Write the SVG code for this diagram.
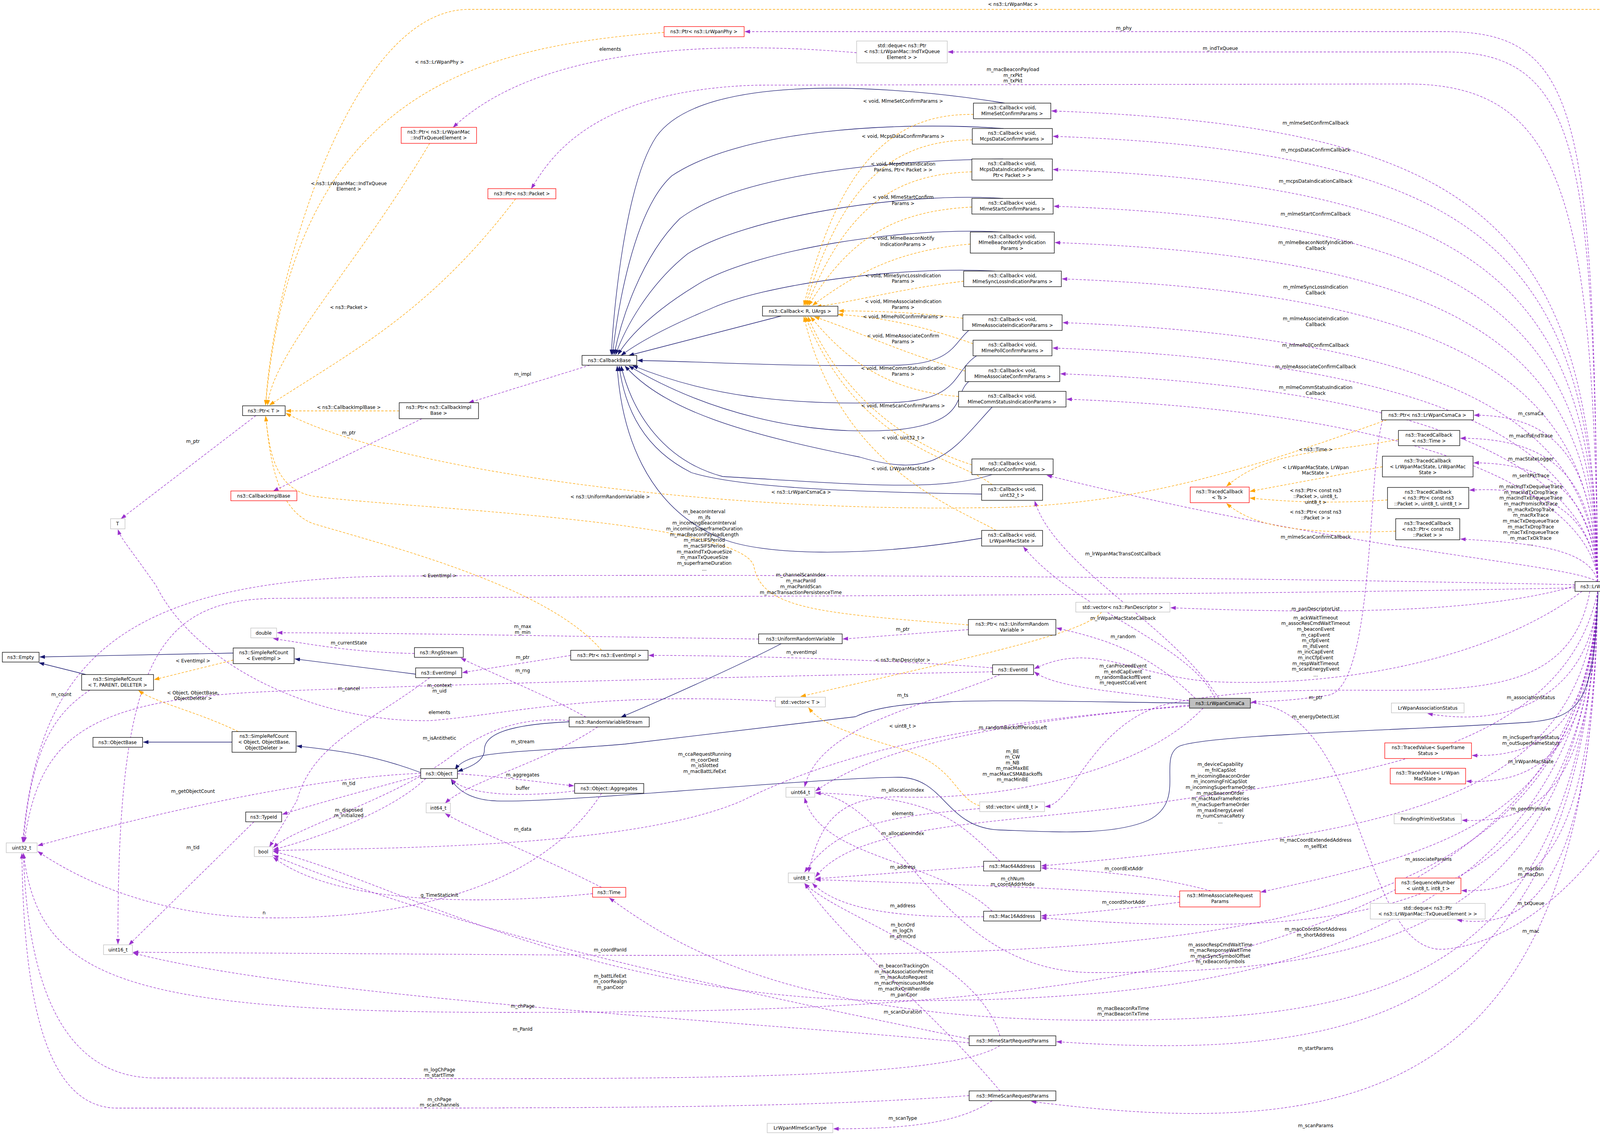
<svg xmlns="http://www.w3.org/2000/svg" width="4465" height="2911" viewBox="0 0 4465 2911">
<style>
text{font-family:"DejaVu Sans","Liberation Sans",sans-serif;font-size:12px;text-anchor:middle;fill:#000}
.nb rect{fill:#fff;stroke:#000;stroke-width:1.3}
.ng rect{fill:#fff;stroke:#bfbfbf;stroke-width:1.3}
.nr rect{fill:#fff;stroke:#ff0000;stroke-width:1.3}
.nc rect{fill:#bfbfbf;stroke:#000;stroke-width:1.3}
.u{fill:none;stroke:#9a32cd;stroke-width:1.3;stroke-dasharray:6,4;marker-end:url(#mu)}
.o{fill:none;stroke:#ffa500;stroke-width:1.3;stroke-dasharray:6,4;marker-end:url(#mo)}
.i{fill:none;stroke:#191970;stroke-width:1.3;marker-end:url(#mi)}
</style>
<defs>
<marker id="mu" markerUnits="userSpaceOnUse" markerWidth="14" markerHeight="10" refX="13" refY="5" orient="auto"><path d="M0,0 L14,5 L0,10 z" fill="#9a32cd"/></marker>
<marker id="mo" markerUnits="userSpaceOnUse" markerWidth="14" markerHeight="10" refX="13" refY="5" orient="auto"><path d="M0,0 L14,5 L0,10 z" fill="#ffa500"/></marker>
<marker id="mi" markerUnits="userSpaceOnUse" markerWidth="14" markerHeight="10" refX="13" refY="5" orient="auto"><path d="M0,0 L14,5 L0,10 z" fill="#191970"/></marker>
</defs>
<rect width="4465" height="2911" fill="#fff"/>
<g id="edges">
<path class="u" d="M4090,1489 C4080,300 4050,81 3700,81 L1907,81"/>
<path class="u" d="M4090,1489 C4080,400 4050,133 3700,133 L2427,133"/>
<path class="u" d="M4090,1489 C4080,500 4000,215 3600,215 L1940,218 C1500,230 1400,420 1360,483"/>
<path class="u" d="M4090,1489 C4080,584 3800,324 2692,284"/>
<path class="u" d="M4090,1489 C4080,649 3800,389 2696,349"/>
<path class="u" d="M4090,1489 C4080,734 3800,474 2696,434"/>
<path class="u" d="M4090,1489 C4080,828 3800,568 2698,528"/>
<path class="u" d="M4090,1489 C4080,921 3800,661 2701,621"/>
<path class="u" d="M4090,1489 C4080,1014 3800,754 2719,714"/>
<path class="u" d="M4090,1489 C4080,1126 3800,866 2721,826"/>
<path class="u" d="M4090,1489 C4080,1191 3800,931 2695,891"/>
<path class="u" d="M4090,1489 C4080,1257 3800,997 2715,957"/>
<path class="u" d="M4090,1489 C4080,1322 3800,1062 2731,1022"/>
<path class="u" d="M4090,1489 C4000,1440 3500,1420 2680,1217"/>
<path class="u" d="M4090,1489 C4080,1200 4000,1063 3774,1063"/>
<path class="u" d="M4090,1489 C4080,1250 4000,1122 3739,1122"/>
<path class="u" d="M4090,1489 C4080,1300 4000,1185 3773,1185"/>
<path class="u" d="M4090,1489 C4080,1350 4000,1240 3762,1255"/>
<path class="u" d="M4090,1489 C4070,1400 3900,1390 3739,1380"/>
<path class="u" d="M3120,1788 C3000,1600 2700,1450 2649,1283"/>
<path class="u" d="M3110,1788 C3050,1650 2750,1560 2620,1400"/>
<path class="u" d="M4252,1502 L4163,1502"/>
<path class="o" d="M4355,1489 C4340,800 4300,24 4100,24 L1200,24 C900,24 700,700 680,1037"/>
<path class="u" d="M3201,1800 C3500,1810 3480,2450 3700,2430 C4000,2400 4300,2000 4355,1516"/>
<path class="u" d="M4032,1500 C3800,1570 3400,1572 2997,1556"/>
<path class="u" d="M4050,1514 C3800,1700 3400,1760 3100,1745 C2900,1730 2800,1640 2648,1712"/>
<path class="u" d="M3060,1788 C2950,1680 2850,1640 2705,1608"/>
<path class="u" d="M3045,1795 C2850,1770 2700,1760 2648,1720"/>
<path class="u" d="M3540,1075 C3500,1200 3520,1760 3400,1780 C3300,1795 3250,1795 3203,1798"/>
<path class="u" d="M4070,1514 C4000,1900 3500,1700 3000,1800 C2800,1840 2750,2060 2676,2065"/>
<path class="u" d="M4090,1514 C4080,1750 3900,1870 3655,1827"/>
<path class="u" d="M4090,1514 C4080,1850 3950,1940 3769,1934"/>
<path class="u" d="M4090,1514 C4080,1900 3950,2010 3754,2000"/>
<path class="u" d="M4090,1514 C4080,2000 3950,2110 3743,2100"/>
<path class="u" d="M4090,1514 C4050,2050 3600,2130 2666,2217"/>
<path class="u" d="M4090,1514 C4060,2100 3700,2180 3228,2284"/>
<path class="u" d="M4090,1514 C4080,2150 3950,2290 3742,2280"/>
<path class="u" d="M4090,1514 C4080,2200 3950,2390 3730,2355"/>
<path class="u" d="M4090,1514 C4060,2300 3600,2420 2666,2350"/>
<path class="u" d="M4090,1514 C4050,2400 3500,2490 2800,2490 C2400,2490 2300,2050 2088,2030"/>
<path class="u" d="M4090,1514 C4050,2550 3500,2612 2800,2612 C2000,2612 1700,2400 1560,2299"/>
<path class="u" d="M4090,1514 C4050,2600 3500,2720 2705,2667"/>
<path class="u" d="M4090,1514 C4080,2800 3500,2930 2640,2820"/>
<path class="u" d="M4090,1514 C4000,1950 3400,1990 3000,2050 C2600,2110 2200,2100 2088,2245"/>
<path class="u" d="M4090,1514 C4050,2500 3000,2562 2300,2562 C1500,2562 1000,2250 700,2180"/>
<path class="u" d="M4090,1514 C4050,2550 2500,2592 1300,2592 C300,2592 100,2500 60,2185"/>
<path class="u" d="M4090,1514 C4050,2450 3000,2446 1600,2446 L341,2438"/>
<path class="u" d="M4032,1497 C3000,1475 2000,1470 1000,1475 C300,1485 100,1700 58,2156"/>
<path class="u" d="M4032,1505 C3000,1527 1500,1527 700,1532 C400,1537 300,1700 302,2417"/>
<path class="i" d="M4091,1516 C4080,1800 4050,1840 3900,1850 C3600,1870 3100,1880 3020,1910 C2960,1940 3040,2050 2940,2100 C2850,2140 2700,2130 2560,2125 C2420,2120 2420,1990 2300,1990 C2100,1990 1400,2060 1260,2050 C1200,2045 1170,2020 1155,1996"/>
<path class="i" d="M3045,1800 C2600,1795 2300,1780 2190,1835 L1600,1905 C1300,1930 1200,1920 1165,1970"/>
<path class="u" d="M2560,1727 C2400,1800 2100,1850 2060,2014"/>
<path class="u" d="M2541,1720 C2000,1730 1200,1750 700,1770 C200,1790 100,1900 62,2156"/>
<path class="u" d="M2541,1710 C2300,1690 1900,1678 1661,1678"/>
<path class="o" d="M2820,1567 C2780,1620 2500,1680 2050,1783"/>
<path class="o" d="M2508,2063 C2440,2040 2450,1960 2300,1915 C2150,1870 2100,1850 2070,1812"/>
<path class="u" d="M1985,1795 C1500,1770 1300,1830 1100,1845 C800,1850 500,1700 400,1500 C330,1400 310,1380 302,1356"/>
<path class="u" d="M2193,135 C1900,110 1400,100 1160,326"/>
<path class="u" d="M2508,2070 C2300,2090 2150,2100 2060,2233"/>
<path class="u" d="M2560,2205 C2450,2100 2400,2040 2088,2030"/>
<path class="u" d="M2540,2333 C2400,2200 2100,2200 2060,2043"/>
<path class="u" d="M2518,2218 L2088,2250"/>
<path class="u" d="M2518,2347 C2300,2350 2150,2330 2080,2262"/>
<path class="u" d="M3100,2281 C2950,2240 2800,2230 2666,2222"/>
<path class="u" d="M3020,2310 C2900,2325 2750,2340 2666,2345"/>
<path class="u" d="M3020,2296 C2700,2270 2300,2260 2088,2252"/>
<path class="u" d="M2560,2652 C2500,2450 2150,2350 2060,2262"/>
<path class="u" d="M2481,2670 C2000,2620 800,2560 341,2440"/>
<path class="u" d="M2560,2677 C2400,2780 1500,2760 400,2760 C150,2760 70,2500 60,2185"/>
<path class="u" d="M2481,2660 C2000,2560 1200,2400 700,2190"/>
<path class="u" d="M2481,2805 C2000,2840 1500,2837 300,2837 C100,2837 60,2500 56,2185"/>
<path class="u" d="M2540,2818 C2450,2880 2300,2890 2134,2890"/>
<path class="u" d="M2560,2793 C2400,2600 2150,2400 2060,2262"/>
<path class="u" d="M3080,1813 C2900,2000 2500,2050 2300,2040 C2150,2040 2100,2100 2070,2233"/>
<path class="u" d="M3045,1805 C2700,1840 2300,1880 2088,2025"/>
<path class="u" d="M3045,1808 C2600,1840 2200,1900 1900,2050 C1600,2180 900,2170 700,2178"/>
<path class="u" d="M2479,1612 L2158,1636"/>
<path class="o" d="M2479,1600 C2100,1570 1950,1560 1930,1450 C1900,1330 1000,1300 800,1270 C700,1250 690,1150 680,1066"/>
<path class="o" d="M3550,1075 C3200,1200 2900,1300 2500,1300 C1800,1310 1000,1200 732,1058"/>
<path class="u" d="M1942,1636 C1500,1630 1000,1620 710,1620"/>
<path class="i" d="M2000,1648 C1900,1700 1700,1790 1590,1836"/>
<path class="u" d="M1500,1836 C1400,1780 1250,1720 1180,1685"/>
<path class="u" d="M1457,1845 C1300,1830 1200,1900 1150,1940 C1000,2050 750,2120 700,2170"/>
<path class="u" d="M1530,1861 C1400,1950 1200,2000 1140,2056"/>
<path class="i" d="M1457,1848 C1300,1855 1240,1880 1240,1920 C1240,1950 1200,1965 1172,1975"/>
<path class="u" d="M1061,1673 C900,1670 800,1650 700,1635"/>
<path class="u" d="M1461,1678 L1184,1722"/>
<path class="o" d="M1540,1665 C1400,1500 1000,1400 800,1340 C700,1300 690,1150 680,1066"/>
<path class="i" d="M1064,1726 L755,1687"/>
<path class="u" d="M1100,1735 C950,1850 800,1900 760,2050 L690,2168"/>
<path class="i" d="M597,1672 L102,1682"/>
<path class="o" d="M597,1690 L395,1740"/>
<path class="i" d="M220,1727 L100,1697"/>
<path class="u" d="M230,1767 C150,1820 80,1900 60,2156"/>
<path class="i" d="M594,1900 L367,1900"/>
<path class="o" d="M610,1873 C500,1820 400,1800 355,1768"/>
<path class="i" d="M1077,1978 C950,1930 850,1920 760,1910"/>
<path class="u" d="M1171,1981 C1300,1990 1400,2005 1469,2012"/>
<path class="u" d="M1471,2025 C1350,2040 1200,2040 1155,1995"/>
<path class="u" d="M1077,1985 C950,2020 800,2060 723,2085"/>
<path class="u" d="M1090,1993 C1000,2080 800,2150 700,2175"/>
<path class="u" d="M1077,1980 C800,1990 400,2080 97,2165"/>
<path class="u" d="M1540,2031 C1400,2250 1100,2350 700,2350 C400,2350 200,2250 97,2180"/>
<path class="u" d="M650,2104 L330,2419"/>
<path class="u" d="M1540,2272 C1400,2200 1200,2120 1140,2083"/>
<path class="u" d="M1517,2288 C1200,2320 850,2310 700,2195"/>
<path class="u" d="M655,1064 L310,1328"/>
<path class="o" d="M1022,1052 L732,1052"/>
<path class="u" d="M1080,1072 L700,1257"/>
<path class="u" d="M1510,935 L1200,1031"/>
<path class="i" d="M2000,809 L1610,910"/>
<path class="o" d="M1700,83 C1200,120 750,250 680,1037"/>
<path class="o" d="M1100,367 C900,700 700,900 685,1037"/>
<path class="o" d="M1320,509 C1100,800 900,900 690,1037"/>
<path class="i" d="M2572,264 C2300,220 1800,180 1680,350 C1600,470 1570,800 1565,908"/>
<path class="i" d="M2569,329 C2300,310 1900,330 1720,450 C1620,540 1580,800 1568,908"/>
<path class="i" d="M2568,407 C2300,410 1900,440 1740,560 C1640,660 1590,820 1572,908"/>
<path class="i" d="M2568,508 C2300,490 1900,560 1760,650 C1660,730 1600,840 1576,908"/>
<path class="i" d="M2564,594 C2300,580 1950,640 1800,720 C1680,790 1610,860 1582,908"/>
<path class="i" d="M2547,694 C2300,680 1950,730 1820,790 C1700,840 1630,880 1590,910"/>
<path class="i" d="M2480,846 C2440,880 2440,930 2300,935 C2000,940 1800,925 1632,923"/>
<path class="i" d="M2500,911 C2440,950 2460,1020 2300,1030 C2000,1040 1800,1010 1620,936"/>
<path class="i" d="M2480,977 C2440,1010 2480,1080 2300,1100 C2050,1120 1800,1050 1610,937"/>
<path class="i" d="M2540,1042 C2440,1150 2400,1230 2200,1170 C1900,1110 1700,1050 1600,937"/>
<path class="i" d="M2540,1215 C2400,1260 2200,1240 1850,1220 C1700,1180 1620,1060 1590,937"/>
<path class="i" d="M2513,1265 C2200,1260 1900,1250 1770,1210 C1650,1150 1600,1050 1585,937"/>
<path class="i" d="M2513,1378 C2200,1430 1950,1420 1850,1380 C1650,1300 1590,1100 1580,937"/>
<path class="o" d="M2492,293 C2300,290 2150,400 2058,782"/>
<path class="o" d="M2489,358 C2300,360 2160,450 2062,782"/>
<path class="o" d="M2488,440 C2300,445 2170,520 2066,782"/>
<path class="o" d="M2488,530 C2300,540 2180,600 2070,782"/>
<path class="o" d="M2484,625 C2300,640 2190,700 2080,782"/>
<path class="o" d="M2467,720 C2300,740 2200,770 2090,785"/>
<path class="o" d="M2465,815 C2350,800 2250,796 2147,796"/>
<path class="o" d="M2491,880 C2350,830 2250,812 2145,805"/>
<path class="o" d="M2471,950 C2300,900 2200,850 2085,811"/>
<path class="o" d="M2454,1015 C2250,1000 2150,900 2075,811"/>
<path class="o" d="M2488,1190 C2300,1130 2150,1000 2068,811"/>
<path class="o" d="M2540,1241 C2450,1170 2200,1150 2062,811"/>
<path class="o" d="M2550,1358 C2450,1300 2150,1200 2058,811"/>
<path class="o" d="M3580,1125 C3400,1160 3250,1150 3140,1245"/>
<path class="o" d="M3539,1195 L3200,1258"/>
<path class="o" d="M3552,1280 C3400,1290 3300,1285 3200,1275"/>
<path class="o" d="M3573,1360 C3300,1370 3200,1340 3140,1289"/>
</g>
<g id="labels">
<text x="2593" y="15">&lt; ns3::LrWpanMac &gt;</text>
<text x="2877" y="76">m_phy</text>
<text x="3124" y="128">m_indTxQueue</text>
<text x="2593" y="182">m_macBeaconPayload</text><text x="2593" y="197">m_rxPkt</text><text x="2593" y="211">m_txPkt</text>
<text x="3368" y="319">m_mlmeSetConfirmCallback</text>
<text x="3368" y="388">m_mcpsDataConfirmCallback</text>
<text x="3368" y="468">m_mcpsDataIndicationCallback</text>
<text x="3368" y="552">m_mlmeStartConfirmCallback</text>
<text x="3368" y="625">m_mlmeBeaconNotifyIndication</text><text x="3368" y="640">Callback</text>
<text x="3368" y="739">m_mlmeSyncLossIndication</text><text x="3368" y="754">Callback</text>
<text x="3368" y="820">m_mlmeAssociateIndication</text><text x="3368" y="835">Callback</text>
<text x="3368" y="888">m_mlmePollConfirmCallback</text>
<text x="3368" y="943">m_mlmeAssociateConfirmCallback</text>
<text x="3368" y="996">m_mlmeCommStatusIndication</text><text x="3368" y="1011">Callback</text>
<text x="3368" y="1379">m_mlmeScanConfirmCallback</text>
<text x="3919" y="1063">m_csmaCa</text>
<text x="3919" y="1120">m_macIfsEndTrace</text>
<text x="3919" y="1179">m_macStateLogger</text>
<text x="3919" y="1222">m_sentPktTrace</text>
<text x="3919" y="1250">m_macIndTxDequeueTrace</text><text x="3919" y="1265">m_macIndTxDropTrace</text><text x="3919" y="1279">m_macIndTxEnqueueTrace</text><text x="3919" y="1294">m_macPromiscRxTrace</text><text x="3919" y="1309">m_macRxDropTrace</text><text x="3919" y="1323">m_macRxTrace</text><text x="3919" y="1338">m_macTxDequeueTrace</text><text x="3919" y="1353">m_macTxDropTrace</text><text x="3919" y="1367">m_macTxEnqueueTrace</text><text x="3919" y="1382">m_macTxOkTrace</text><text x="3919" y="1396">...</text>
<text x="3368" y="1155">&lt; ns3::Time &gt;</text>
<text x="3368" y="1201">&lt; LrWpanMacState, LrWpan</text><text x="3368" y="1215">MacState &gt;</text>
<text x="3368" y="1260">&lt; ns3::Ptr&lt; const ns3</text><text x="3368" y="1275">::Packet &gt;, uint8_t,</text><text x="3368" y="1290">uint8_t &gt;</text>
<text x="3368" y="1315">&lt; ns3::Ptr&lt; const ns3</text><text x="3368" y="1330">::Packet &gt; &gt;</text>
<text x="2875" y="1422">m_lrWpanMacTransCostCallback</text>
<text x="2875" y="1587">m_lrWpanMacStateCallback</text>
<text x="4209" y="1496">m_ptr</text>
<text x="3919" y="2388">m_mac</text>
<text x="3368" y="1563">m_panDescriptorList</text>
<text x="3368" y="1586">m_ackWaitTimeout</text><text x="3368" y="1600">m_assocResCmdWaitTimeout</text><text x="3368" y="1615">m_beaconEvent</text><text x="3368" y="1630">m_capEvent</text><text x="3368" y="1644">m_cfpEvent</text><text x="3368" y="1659">m_ifsEvent</text><text x="3368" y="1673">m_incCapEvent</text><text x="3368" y="1688">m_incCfpEvent</text><text x="3368" y="1703">m_respWaitTimeout</text><text x="3368" y="1717">m_scanEnergyEvent</text><text x="3368" y="1732">...</text>
<text x="2875" y="1634">m_random</text>
<text x="2875" y="1709">m_canProceedEvent</text><text x="2875" y="1724">m_endCapEvent</text><text x="2875" y="1738">m_randomBackoffEvent</text><text x="2875" y="1752">m_requestCcaEvent</text>
<text x="3368" y="1790">m_ptr</text>
<text x="3368" y="1839">m_energyDetectList</text>
<text x="3919" y="1790">m_associationStatus</text>
<text x="3919" y="1892">m_incSuperframeStatus</text><text x="3919" y="1907">m_outSuperframeStatus</text>
<text x="3919" y="1954">m_lrWpanMacState</text>
<text x="3919" y="2075">m_pendPrimitive</text>
<text x="3368" y="2155">m_macCoordExtendedAddress</text><text x="3368" y="2171">m_selfExt</text>
<text x="3657" y="2204">m_associateParams</text>
<text x="3919" y="2228">m_macBsn</text><text x="3919" y="2243">m_macDsn</text>
<text x="3919" y="2317">m_txQueue</text>
<text x="3368" y="2383">m_macCoordShortAddress</text><text x="3368" y="2398">m_shortAddress</text>
<text x="3124" y="2423">m_assocRespCmdWaitTime</text><text x="3124" y="2437">m_macResponseWaitTime</text><text x="3124" y="2452">m_macSyncSymbolOffset</text><text x="3124" y="2466">m_rxBeaconSymbols</text>
<text x="2875" y="2586">m_macBeaconRxTime</text><text x="2875" y="2600">m_macBeaconTxTime</text>
<text x="3368" y="2688">m_startParams</text>
<text x="3368" y="2886">m_scanParams</text>
<text x="3124" y="1961">m_deviceCapability</text><text x="3124" y="1976">m_fnlCapSlot</text><text x="3124" y="1991">m_incomingBeaconOrder</text><text x="3124" y="2005">m_incomingFnlCapSlot</text><text x="3124" y="2020">m_incomingSuperframeOrder</text><text x="3124" y="2035">m_macBeaconOrder</text><text x="3124" y="2049">m_macMaxFrameRetries</text><text x="3124" y="2064">m_macSuperframeOrder</text><text x="3124" y="2079">m_maxEnergyLevel</text><text x="3124" y="2093">m_numCsmacaRetry</text><text x="3124" y="2108">...</text>
<text x="2314" y="2477">m_beaconTrackingOn</text><text x="2314" y="2492">m_macAssociationPermit</text><text x="2314" y="2506">m_macAutoRequest</text><text x="2314" y="2521">m_macPromiscuousMode</text><text x="2314" y="2536">m_macRxOnWhenIdle</text><text x="2314" y="2551">m_panCoor</text>
<text x="2311" y="2595">m_scanDuration</text>
<text x="2311" y="2224">m_address</text>
<text x="2311" y="2323">m_address</text>
<text x="2592" y="2254">m_chNum</text><text x="2592" y="2268">m_coordAddrMode</text>
<text x="2877" y="2228">m_coordExtAddr</text>
<text x="2877" y="2314">m_coordShortAddr</text>
<text x="2311" y="2372">m_bcnOrd</text><text x="2311" y="2387">m_logCh</text><text x="2311" y="2402">m_sfrmOrd</text>
<text x="1338" y="2639">m_PanId</text>
<text x="1125" y="2743">m_logChPage</text><text x="1125" y="2757">m_startTime</text>
<text x="1562" y="2503">m_battLifeExt</text><text x="1562" y="2517">m_coorRealgn</text><text x="1562" y="2532">m_panCoor</text>
<text x="1125" y="2819">m_chPage</text><text x="1125" y="2833">m_scanChannels</text>
<text x="2311" y="2867">m_scanType</text>
<text x="1338" y="2580">m_chPage</text>
<text x="1562" y="2436">m_coordPanId</text>
<text x="2592" y="1928">m_BE</text><text x="2592" y="1942">m_CW</text><text x="2592" y="1957">m_NB</text><text x="2592" y="1971">m_macMaxBE</text><text x="2592" y="1986">m_macMaxCSMABackoffs</text><text x="2592" y="2000">m_macMinBE</text>
<text x="2593" y="1867">m_randomBackoffPeriodsLeft</text>
<text x="1804" y="1935">m_ccaRequestRunning</text><text x="1804" y="1950">m_coorDest</text><text x="1804" y="1964">m_isSlotted</text><text x="1804" y="1979">m_macBattLifeExt</text>
<text x="2311" y="1863">&lt; uint8_t &gt;</text>
<text x="2311" y="1784">m_ts</text>
<text x="1125" y="1759">m_context</text><text x="1125" y="1773">m_uid</text>
<text x="2052" y="1674">m_eventImpl</text>
<text x="2311" y="1694">&lt; ns3::PanDescriptor &gt;</text>
<text x="1125" y="1828">elements</text>
<text x="1562" y="130">elements</text>
<text x="2311" y="2087">elements</text>
<text x="2311" y="2027">m_allocationIndex</text>
<text x="2311" y="2138">m_allocationIndex</text>
<text x="2311" y="1615">m_ptr</text>
<text x="1562" y="1276">&lt; ns3::UniformRandomVariable &gt;</text>
<text x="2051" y="1264">&lt; ns3::LrWpanCsmaCa &gt;</text>
<text x="1338" y="1608">m_max</text><text x="1338" y="1623">m_min</text>
<text x="1338" y="1721">m_rng</text>
<text x="1125" y="1894">m_isAntithetic</text>
<text x="1338" y="1903">m_stream</text>
<text x="893" y="1650">m_currentState</text>
<text x="1338" y="1687">m_ptr</text>
<text x="1125" y="1478">&lt; EventImpl &gt;</text>
<text x="893" y="1767">m_cancel</text>
<text x="494" y="1696">&lt; EventImpl &gt;</text>
<text x="157" y="1782">m_count</text>
<text x="494" y="1778">&lt; Object, ObjectBase,</text><text x="494" y="1792">ObjectDeleter &gt;</text>
<text x="1338" y="1988">m_aggregates</text>
<text x="1338" y="2022">buffer</text>
<text x="893" y="2010">m_tid</text>
<text x="893" y="2078">m_disposed</text><text x="893" y="2092">m_initialized</text>
<text x="494" y="2030">m_getObjectCount</text>
<text x="676" y="2341">n</text>
<text x="494" y="2174">m_tid</text>
<text x="1338" y="2127">m_data</text>
<text x="1125" y="2296">g_TimeStaticInit</text>
<text x="494" y="1134">m_ptr</text>
<text x="893" y="1047">&lt; ns3::CallbackImplBase &gt;</text>
<text x="893" y="1112">m_ptr</text>
<text x="1338" y="962">m_impl</text>
<text x="1125" y="163">&lt; ns3::LrWpanPhy &gt;</text>
<text x="893" y="474">&lt; ns3::LrWpanMac::IndTxQueue</text><text x="893" y="488">Element &gt;</text>
<text x="893" y="791">&lt; ns3::Packet &gt;</text>
<text x="1803" y="1314">m_beaconInterval</text><text x="1803" y="1329">m_ifs</text><text x="1803" y="1343">m_incomingBeaconInterval</text><text x="1803" y="1358">m_incomingSuperframeDuration</text><text x="1803" y="1373">m_macBeaconPayloadLength</text><text x="1803" y="1387">m_macLIFSPeriod</text><text x="1803" y="1402">m_macSIFSPeriod</text><text x="1803" y="1417">m_maxIndTxQueueSize</text><text x="1803" y="1431">m_maxTxQueueSize</text><text x="1803" y="1446">m_superframeDuration</text><text x="1803" y="1461">...</text>
<text x="2050" y="1476">m_channelScanIndex</text><text x="2050" y="1491">m_macPanId</text><text x="2050" y="1506">m_macPanIdScan</text><text x="2050" y="1521">m_macTransactionPersistenceTime</text>
<text x="2312" y="263">&lt; void, MlmeSetConfirmParams &gt;</text>
<text x="2312" y="353">&lt; void, McpsDataConfirmParams &gt;</text>
<text x="2312" y="424">&lt; void, McpsDataIndication</text><text x="2312" y="439">Params, Ptr&lt; Packet &gt; &gt;</text>
<text x="2312" y="509">&lt; void, MlmeStartConfirm</text><text x="2312" y="525">Params &gt;</text>
<text x="2312" y="614">&lt; void, MlmeBeaconNotify</text><text x="2312" y="630">IndicationParams &gt;</text>
<text x="2312" y="710">&lt; void, MlmeSyncLossIndication</text><text x="2312" y="724">Params &gt;</text>
<text x="2312" y="776">&lt; void, MlmeAssociateIndication</text><text x="2312" y="791">Params &gt;</text>
<text x="2312" y="815">&lt; void, MlmePollConfirmParams &gt;</text>
<text x="2312" y="864">&lt; void, MlmeAssociateConfirm</text><text x="2312" y="879">Params &gt;</text>
<text x="2312" y="947">&lt; void, MlmeCommStatusIndication</text><text x="2312" y="962">Params &gt;</text>
<text x="2312" y="1043">&lt; void, MlmeScanConfirmParams &gt;</text>
<text x="2312" y="1125">&lt; void, uint32_t &gt;</text>
<text x="2312" y="1204">&lt; void, LrWpanMacState &gt;</text>
</g>
<g id="n_ptrphy" class="nr"><rect x="1700" y="68" width="205" height="26"/><text x="1802" y="85">ns3::Ptr&lt; ns3::LrWpanPhy &gt;</text></g>
<g id="n_deque" class="ng"><rect x="2193" y="105" width="232" height="56"/><text x="2309" y="121">std::deque&lt; ns3::Ptr</text><text x="2309" y="136">&lt; ns3::LrWpanMac::IndTxQueue</text><text x="2309" y="151">Element &gt; &gt;</text></g>
<g id="n_ptrind" class="nr"><rect x="1027" y="326" width="193" height="41"/><text x="1123" y="342">ns3::Ptr&lt; ns3::LrWpanMac</text><text x="1123" y="357">::IndTxQueueElement &gt;</text></g>
<g id="n_ptrpkt" class="nr"><rect x="1249" y="483" width="174" height="26"/><text x="1336" y="500">ns3::Ptr&lt; ns3::Packet &gt;</text></g>
<g id="n_cbr" class="nb"><rect x="1952" y="784" width="193" height="25"/><text x="2048" y="801">ns3::Callback&lt; R, UArgs &gt;</text></g>
<g id="n_cbbase" class="nb"><rect x="1490" y="910" width="140" height="25"/><text x="1560" y="927">ns3::CallbackBase</text></g>
<g id="n_ptrt" class="nb"><rect x="621" y="1039" width="109" height="25"/><text x="675" y="1056">ns3::Ptr&lt; T &gt;</text></g>
<g id="n_ptrcbi" class="nb"><rect x="1022" y="1031" width="203" height="41"/><text x="1123" y="1047">ns3::Ptr&lt; ns3::CallbackImpl</text><text x="1123" y="1062">Base &gt;</text></g>
<g id="n_cbi" class="nr"><rect x="591" y="1257" width="169" height="25"/><text x="675" y="1274">ns3::CallbackImplBase</text></g>
<g id="n_t" class="ng"><rect x="283" y="1328" width="37" height="26"/><text x="301" y="1345">T</text></g>
<g id="n_c1" class="nb"><rect x="2492" y="264" width="198" height="40"/><text x="2591" y="280">ns3::Callback&lt; void,</text><text x="2591" y="295">MlmeSetConfirmParams &gt;</text></g>
<g id="n_c2" class="nb"><rect x="2489" y="329" width="205" height="40"/><text x="2591" y="345">ns3::Callback&lt; void,</text><text x="2591" y="360">McpsDataConfirmParams &gt;</text></g>
<g id="n_c3" class="nb"><rect x="2488" y="407" width="206" height="54"/><text x="2591" y="423">ns3::Callback&lt; void,</text><text x="2591" y="438">McpsDataIndicationParams,</text><text x="2591" y="453">Ptr&lt; Packet &gt; &gt;</text></g>
<g id="n_c4" class="nb"><rect x="2488" y="508" width="208" height="40"/><text x="2592" y="524">ns3::Callback&lt; void,</text><text x="2592" y="539">MlmeStartConfirmParams &gt;</text></g>
<g id="n_c5" class="nb"><rect x="2484" y="594" width="215" height="54"/><text x="2591" y="610">ns3::Callback&lt; void,</text><text x="2591" y="625">MlmeBeaconNotifyIndication</text><text x="2591" y="640">Params &gt;</text></g>
<g id="n_c6" class="nb"><rect x="2467" y="694" width="250" height="40"/><text x="2592" y="710">ns3::Callback&lt; void,</text><text x="2592" y="725">MlmeSyncLossIndicationParams &gt;</text></g>
<g id="n_c7" class="nb"><rect x="2465" y="806" width="254" height="40"/><text x="2592" y="822">ns3::Callback&lt; void,</text><text x="2592" y="837">MlmeAssociateIndicationParams &gt;</text></g>
<g id="n_c8" class="nb"><rect x="2491" y="871" width="202" height="40"/><text x="2592" y="887">ns3::Callback&lt; void,</text><text x="2592" y="902">MlmePollConfirmParams &gt;</text></g>
<g id="n_c9" class="nb"><rect x="2471" y="937" width="242" height="40"/><text x="2592" y="953">ns3::Callback&lt; void,</text><text x="2592" y="968">MlmeAssociateConfirmParams &gt;</text></g>
<g id="n_c10" class="nb"><rect x="2454" y="1002" width="275" height="40"/><text x="2591" y="1018">ns3::Callback&lt; void,</text><text x="2591" y="1033">MlmeCommStatusIndicationParams &gt;</text></g>
<g id="n_c11" class="nb"><rect x="2488" y="1175" width="208" height="40"/><text x="2592" y="1191">ns3::Callback&lt; void,</text><text x="2592" y="1206">MlmeScanConfirmParams &gt;</text></g>
<g id="n_c12" class="nb"><rect x="2513" y="1241" width="156" height="40"/><text x="2591" y="1257">ns3::Callback&lt; void,</text><text x="2591" y="1272">uint32_t &gt;</text></g>
<g id="n_c13" class="nb"><rect x="2513" y="1358" width="156" height="40"/><text x="2591" y="1374">ns3::Callback&lt; void,</text><text x="2591" y="1389">LrWpanMacState &gt;</text></g>
<g id="n_ptrcsma" class="nb"><rect x="3537" y="1051" width="235" height="24"/><text x="3654" y="1067">ns3::Ptr&lt; ns3::LrWpanCsmaCa &gt;</text></g>
<g id="n_tc1" class="nb"><rect x="3580" y="1102" width="157" height="39"/><text x="3658" y="1118">ns3::TracedCallback</text><text x="3658" y="1133">&lt; ns3::Time &gt;</text></g>
<g id="n_tc2" class="nb"><rect x="3539" y="1168" width="232" height="53"/><text x="3655" y="1184">ns3::TracedCallback</text><text x="3655" y="1199">&lt; LrWpanMacState, LrWpanMac</text><text x="3655" y="1214">State &gt;</text></g>
<g id="n_tct" class="nr"><rect x="3047" y="1247" width="151" height="40"/><text x="3122" y="1263">ns3::TracedCallback</text><text x="3122" y="1278">&lt; Ts &gt;</text></g>
<g id="n_tc3" class="nb"><rect x="3552" y="1248" width="208" height="54"/><text x="3656" y="1264">ns3::TracedCallback</text><text x="3656" y="1279">&lt; ns3::Ptr&lt; const ns3</text><text x="3656" y="1294">::Packet &gt;, uint8_t, uint8_t &gt;</text></g>
<g id="n_tc4" class="nb"><rect x="3573" y="1328" width="164" height="54"/><text x="3655" y="1344">ns3::TracedCallback</text><text x="3655" y="1359">&lt; ns3::Ptr&lt; const ns3</text><text x="3655" y="1374">::Packet &gt; &gt;</text></g>
<g id="n_double" class="ng"><rect x="642" y="1608" width="66" height="25"/><text x="675" y="1625">double</text></g>
<g id="n_empty" class="nb"><rect x="6" y="1670" width="94" height="25"/><text x="53" y="1687">ns3::Empty</text></g>
<g id="n_srce" class="nb"><rect x="597" y="1659" width="156" height="40"/><text x="675" y="1675">ns3::SimpleRefCount</text><text x="675" y="1690">&lt; EventImpl &gt;</text></g>
<g id="n_srct" class="nb"><rect x="209" y="1727" width="184" height="40"/><text x="301" y="1743">ns3::SimpleRefCount</text><text x="301" y="1758">&lt; T, PARENT, DELETER &gt;</text></g>
<g id="n_rng" class="nb"><rect x="1061" y="1658" width="125" height="25"/><text x="1123" y="1675">ns3::RngStream</text></g>
<g id="n_evimpl" class="nb"><rect x="1064" y="1710" width="118" height="25"/><text x="1123" y="1727">ns3::EventImpl</text></g>
<g id="n_ptrev" class="nb"><rect x="1461" y="1665" width="198" height="25"/><text x="1560" y="1682">ns3::Ptr&lt; ns3::EventImpl &gt;</text></g>
<g id="n_urv" class="nb"><rect x="1942" y="1623" width="214" height="25"/><text x="2049" y="1640">ns3::UniformRandomVariable</text></g>
<g id="n_vect" class="ng"><rect x="1985" y="1785" width="128" height="25"/><text x="2049" y="1802">std::vector&lt; T &gt;</text></g>
<g id="n_rvs" class="nb"><rect x="1457" y="1836" width="205" height="25"/><text x="1559" y="1853">ns3::RandomVariableStream</text></g>
<g id="n_objbase" class="nb"><rect x="238" y="1888" width="127" height="25"/><text x="301" y="1905">ns3::ObjectBase</text></g>
<g id="n_srco" class="nb"><rect x="594" y="1873" width="164" height="53"/><text x="676" y="1889">ns3::SimpleRefCount</text><text x="676" y="1904">&lt; Object, ObjectBase,</text><text x="676" y="1919">ObjectDeleter &gt;</text></g>
<g id="n_object" class="nb"><rect x="1077" y="1968" width="94" height="25"/><text x="1124" y="1985">ns3::Object</text></g>
<g id="n_aggr" class="nb"><rect x="1471" y="2006" width="177" height="25"/><text x="1559" y="2023">ns3::Object::Aggregates</text></g>
<g id="n_int64" class="ng"><rect x="1091" y="2056" width="62" height="25"/><text x="1122" y="2073">int64_t</text></g>
<g id="n_typeid" class="nb"><rect x="629" y="2079" width="92" height="25"/><text x="675" y="2096">ns3::TypeId</text></g>
<g id="n_uint32" class="ng"><rect x="16" y="2158" width="79" height="25"/><text x="55" y="2175">uint32_t</text></g>
<g id="n_bool" class="ng"><rect x="651" y="2168" width="47" height="25"/><text x="674" y="2185">bool</text></g>
<g id="n_uint64" class="ng"><rect x="2012" y="2016" width="74" height="25"/><text x="2049" y="2033">uint64_t</text></g>
<g id="n_uint8" class="ng"><rect x="2018" y="2235" width="68" height="25"/><text x="2052" y="2252">uint8_t</text></g>
<g id="n_time" class="nr"><rect x="1517" y="2272" width="85" height="25"/><text x="1559" y="2289">ns3::Time</text></g>
<g id="n_uint16" class="ng"><rect x="265" y="2419" width="74" height="25"/><text x="302" y="2436">uint16_t</text></g>
<g id="n_scantype" class="ng"><rect x="1964" y="2876" width="168" height="24"/><text x="2048" y="2892">LrWpanMlmeScanType</text></g>
<g id="n_mac" class="nb"><rect x="4032" y="1489" width="129" height="25"/><text x="4096" y="1506">ns3::LrWpanMac</text></g>
<g id="n_ptrmac" class="nb"><rect x="4252" y="1489" width="205" height="25"/><text x="4354" y="1506">ns3::Ptr&lt; ns3::LrWpanMac &gt;</text></g>
<g id="n_vecpd" class="ng"><rect x="2754" y="1542" width="241" height="25"/><text x="2874" y="1559">std::vector&lt; ns3::PanDescriptor &gt;</text></g>
<g id="n_ptrurv" class="nb"><rect x="2479" y="1586" width="224" height="40"/><text x="2591" y="1602">ns3::Ptr&lt; ns3::UniformRandom</text><text x="2591" y="1617">Variable &gt;</text></g>
<g id="n_eventid" class="nb"><rect x="2541" y="1702" width="105" height="25"/><text x="2593" y="1719">ns3::EventId</text></g>
<g id="n_csma" class="nc"><rect x="3045" y="1788" width="156" height="25"/><text x="3123" y="1805">ns3::LrWpanCsmaCa</text></g>
<g id="n_assoc" class="ng"><rect x="3562" y="1800" width="186" height="25"/><text x="3655" y="1817">LrWpanAssociationStatus</text></g>
<g id="n_tvsf" class="nr"><rect x="3545" y="1902" width="222" height="40"/><text x="3656" y="1918">ns3::TracedValue&lt; Superframe</text><text x="3656" y="1933">Status &gt;</text></g>
<g id="n_tvms" class="nr"><rect x="3559" y="1967" width="193" height="40"/><text x="3655" y="1983">ns3::TracedValue&lt; LrWpan</text><text x="3655" y="1998">MacState &gt;</text></g>
<g id="n_vec8" class="ng"><rect x="2508" y="2053" width="166" height="25"/><text x="2591" y="2070">std::vector&lt; uint8_t &gt;</text></g>
<g id="n_pps" class="ng"><rect x="3569" y="2084" width="172" height="25"/><text x="3655" y="2101">PendingPrimitiveStatus</text></g>
<g id="n_mac64" class="nb"><rect x="2518" y="2205" width="146" height="25"/><text x="2591" y="2222">ns3::Mac64Address</text></g>
<g id="n_seq" class="nr"><rect x="3572" y="2248" width="168" height="40"/><text x="3656" y="2264">ns3::SequenceNumber</text><text x="3656" y="2279">&lt; uint8_t, int8_t &gt;</text></g>
<g id="n_marp" class="nr"><rect x="3020" y="2281" width="206" height="41"/><text x="3123" y="2297">ns3::MlmeAssociateRequest</text><text x="3123" y="2312">Params</text></g>
<g id="n_dequetx" class="ng"><rect x="3508" y="2313" width="294" height="40"/><text x="3655" y="2329">std::deque&lt; ns3::Ptr</text><text x="3655" y="2344">&lt; ns3::LrWpanMac::TxQueueElement &gt; &gt;</text></g>
<g id="n_mac16" class="nb"><rect x="2518" y="2333" width="146" height="25"/><text x="2591" y="2350">ns3::Mac16Address</text></g>
<g id="n_msrp" class="nb"><rect x="2481" y="2652" width="222" height="25"/><text x="2592" y="2669">ns3::MlmeStartRequestParams</text></g>
<g id="n_mscrp" class="nb"><rect x="2481" y="2793" width="222" height="25"/><text x="2592" y="2810">ns3::MlmeScanRequestParams</text></g>
</svg>
